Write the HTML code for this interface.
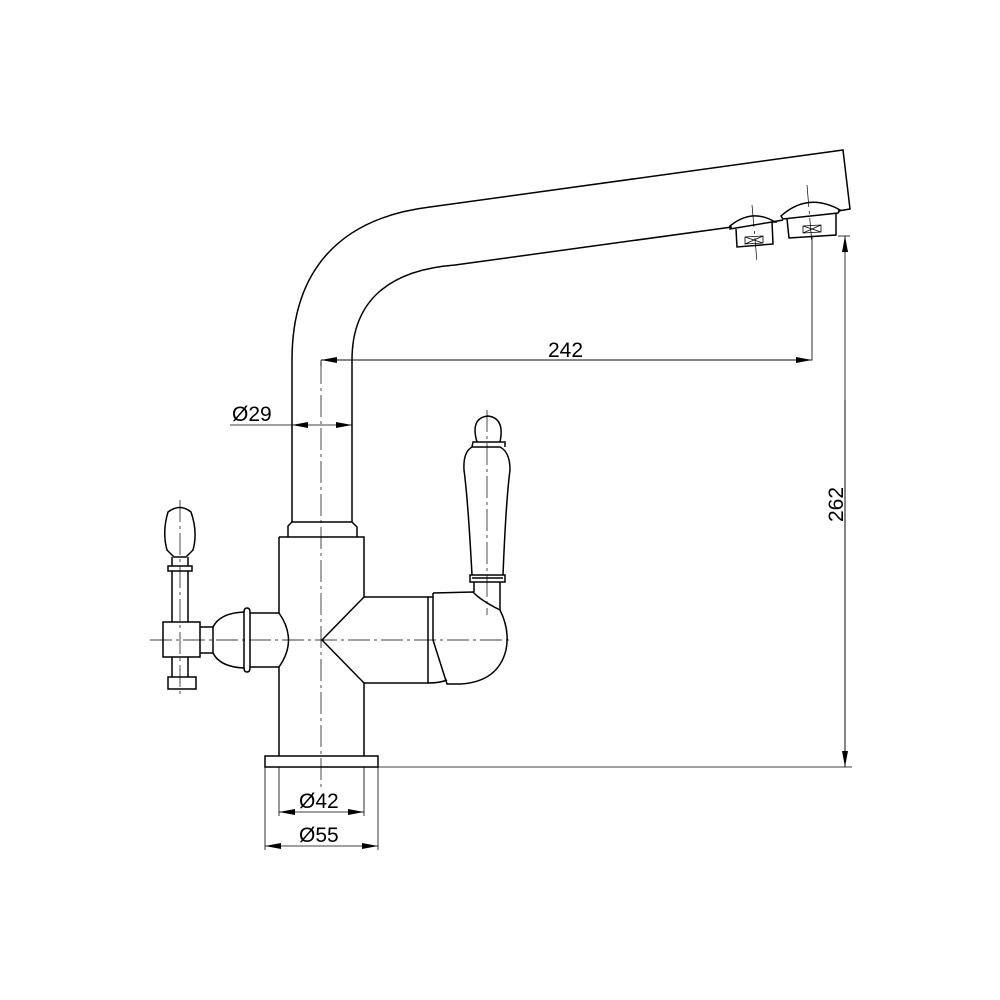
<!DOCTYPE html>
<html><head><meta charset="utf-8"><style>
html,body{margin:0;padding:0;background:#fff}
svg{display:block}
text{font-family:"Liberation Sans",sans-serif;font-size:21px;fill:#000}
</style></head><body>
<svg width="1000" height="1000" viewBox="0 0 1000 1000" xmlns="http://www.w3.org/2000/svg">
<defs>
<marker id="a" viewBox="0 0 16 6" refX="16" refY="3" markerWidth="16" markerHeight="6" orient="auto" markerUnits="userSpaceOnUse"><path d="M0,0 L16,3 L0,6z" fill="#000"/></marker>
</defs>
<g fill="none" stroke="#000" stroke-width="1.5">
<!-- spout -->
<path d="M292,522 L292,360 C292,270 340,218 430,207 L843,150 L850,209 L838,211"/>
<path d="M352,522 L352,360 C352,300 390,270 455,265 L732,227"/>
<path d="M772,222 L783,220"/>
<!-- aerators -->
<path d="M730,226 Q752,208 775,222 L772,222 L730,229z"/>
<path d="M736,229 L737,247 L773,244 L772,222"/>
<path d="M745,237 L763,236 L763,243 L745,244z M745,237 L763,243 M763,236 L745,244" stroke-width="0.8"/>
<path d="M781,216 Q808,192 840,210 L838,213 L783,219z"/>
<path d="M787,219 L789,238 L836,235 L836,213"/>
<path d="M803,226 L821,225 L821,232 L803,233z M803,226 L821,232 M821,225 L803,233" stroke-width="0.8"/>
<!-- collar and body -->
<path d="M288,537 L288,526 L292,522 L352,522 L357,527 L357,537"/>
<path d="M279,537 L364,537 L364,597 L322,640 L364,683 L364,756"/>
<path d="M279,537 L279,613 M279,667 L279,756"/>
<path d="M279,613 Q298,640 279,667"/>
<path d="M265,756 L378,756 L378,767 L265,767z"/>
<!-- right arm -->
<path d="M364,597 L428,597 L428,683 L364,683"/>
<path d="M428,597 L433,597 M428,683 Q440,683 447,680"/>
<path d="M433,593 L473,592 Q480,600 500,610 Q510,630 506,650 Q498,682 460,684 L447,684 L433,640 L433,593"/>
<path d="M474,592 L474,582 M500,610 L500,582"/>
<!-- right handle -->
<path d="M470,575 L505,575 L505,582 L470,582z M472,578 L503,578"/>
<path d="M472,575 Q468,500 464,470 Q463,452 472,447 L500,447 Q510,452 510,470 Q506,500 503,575"/>
<path d="M472,447 L473,442 L505,442 L505,447"/>
<path d="M477,442 Q470,418 488,416 Q505,418 500,442"/>
<!-- left handle -->
<path d="M168,512 Q180,503 191,512 Q198,532 193,550 L186,557 L174,557 L167,550 Q162,532 168,512z"/>
<path d="M172,557 L172,566 M188,557 L188,566"/>
<path d="M168,566 L192,566 L192,571 L168,571z"/>
<path d="M172,571 L172,622 M188,571 L188,622"/>
<path d="M163,622 L200,622 L200,657 L163,657z"/>
<path d="M172,657 L172,677 M188,657 L188,677"/>
<path d="M168,677 L196,677 L196,689 L168,689z"/>
<path d="M200,627 L213,627 L213,653 L200,653"/>
<path d="M213,627 Q220,613 244,612 L244,668 Q220,667 213,653"/>
<path d="M244,612 Q244,608 247,608 Q250,608 250,612 L250,668 Q250,672 247,672 Q244,672 244,668"/>
<path d="M250,613 L279,613 M250,667 L279,667"/>
</g>
<!-- centerlines -->
<g stroke="#000" stroke-width="0.7" fill="none" stroke-dasharray="22,4,3,4">
<path d="M321,362 L321,790"/>
<path d="M150,640 L512,640"/>
<path d="M487,410 L487,615"/>
<path d="M752,205 L757,262"/>
<path d="M807,185 L812,245"/>
<path d="M180,500 L180,695"/>
</g>
<!-- dimensions -->
<g stroke="#000" stroke-width="0.8" fill="none">
<path d="M321,360 L321,366"/>
<path d="M812,236 L812,360 L321,360"/>
<path d="M838,236 L850,236"/>
<path d="M378,767 L852,767"/>
<path d="M845,767 L845,236" marker-end="url(#a)"/>
<path d="M845,400 L845,767" marker-end="url(#a)"/>
<path d="M540,360 L812,360" marker-end="url(#a)"/>
<path d="M540,360 L321,360" marker-end="url(#a)"/>
<path d="M230,425 L292,425"/>
<path d="M321,425 L292,425" marker-end="url(#a)"/>
<path d="M321,425 L352,425" marker-end="url(#a)"/>
<path d="M279,767 L279,816 M364,767 L364,816"/>
<path d="M265,767 L265,850 M378,767 L378,850"/>
<path d="M321,812 L279,812" marker-end="url(#a)"/>
<path d="M321,812 L364,812" marker-end="url(#a)"/>
<path d="M321,846 L265,846" marker-end="url(#a)"/>
<path d="M321,846 L378,846" marker-end="url(#a)"/>
</g>
<text x="548" y="357">242</text>
<text x="232" y="421">Ø29</text>
<text x="299" y="808">Ø42</text>
<text x="299" y="842">Ø55</text>
<text transform="translate(843,522) rotate(-90)">262</text>
</svg>
</body></html>
